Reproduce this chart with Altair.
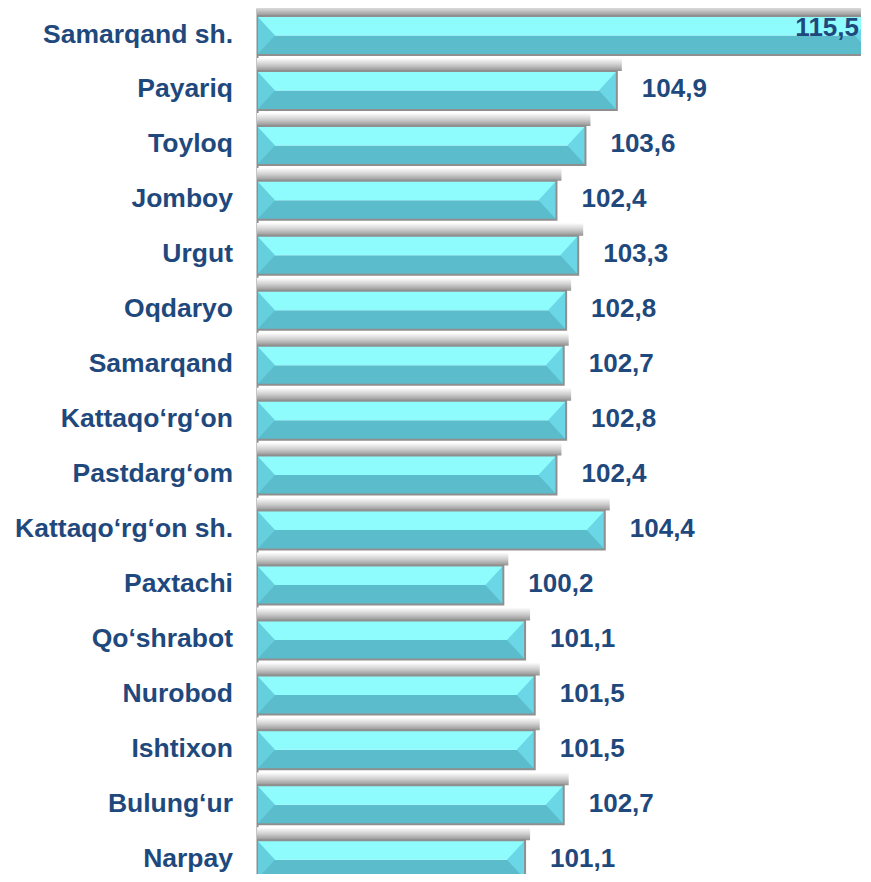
import altair as alt
import pandas as pd

districts = [
    "Samarqand sh.", "Payariq", "Toyloq", "Jomboy", "Urgut", "Oqdaryo",
    "Samarqand\u00a0", "Kattaqo‘rg‘on\u00a0", "Pastdarg‘om", "Kattaqo‘rg‘on sh.",
    "Paxtachi", "Qo‘shrabot", "Nurobod", "Ishtixon", "Bulung‘ur", "Narpay",
]
values = [115.5, 104.9, 103.6, 102.4, 103.3, 102.8, 102.7, 102.8, 102.4, 104.4,
          100.2, 101.1, 101.5, 101.5, 102.7, 101.1]
axis_min = 90
axis_max = 115.01

df = pd.DataFrame({"district": districts, "value": values, "idx": list(range(len(values)))})

W = 604
H = 866
STEP = 54.95
d0 = -27.5 / STEP
d1 = d0 + H / STEP

xscale = alt.Scale(domain=[axis_min, axis_max], nice=False, zero=False)
yscale = alt.Scale(domain=[d0, d1], nice=False, zero=False, reverse=True)
yaxis = alt.Axis(labels=False, ticks=False, grid=False, domain=True,
                 domainColor="#8c8c8c", domainWidth=2, title=None)

def X(f):
    return alt.X(f, type="quantitative", scale=xscale, axis=None)

def Y(f):
    return alt.Y(f, type="quantitative", scale=yscale, axis=yaxis)

base = alt.Chart(df).transform_calculate(
    base=str(axis_min),
    top="datum.idx - 0.355",
    bot="datum.idx + 0.355",
    stop="datum.idx - 0.59",
    mid="datum.idx",
    label="replace(format(datum.value, '.1f'), '.', ',')",
)

shadow_grad = alt.LinearGradient(
    gradient="linear",
    stops=[alt.GradientStop(color="#ffffff", offset=0),
           alt.GradientStop(color="#cfcfcf", offset=0.5),
           alt.GradientStop(color="#939393", offset=1)],
    x1=0, x2=0, y1=0, y2=1,
)

shadow = base.mark_rect(fill=shadow_grad, clip=True, x2Offset=5).encode(
    x=X("base"), x2="value:Q", y=Y("stop"), y2="top:Q")

dark = base.mark_rect(fill="#5bbccb", clip=True).encode(
    x=X("base"), x2="value:Q", y=Y("mid"), y2="bot:Q")

light = base.mark_rect(fill="#8efcfd", clip=True).encode(
    x=X("base"), x2="value:Q", y=Y("top"), y2="mid:Q")

left_tri = base.mark_point(shape="M0,-1L0.923,0L0,1Z", size=1521, filled=True,
                           fill="#66cfde", opacity=1, strokeWidth=0, clip=True).encode(
    x=X("base"), y=Y("idx"))

right_tri = base.mark_point(shape="M0,-1L-0.923,0L0,1Z", size=1521, filled=True,
                            fill="#6bd6e6", opacity=1, strokeWidth=0, clip=True).encode(
    x=X("value"), y=Y("idx"))

outline = base.mark_rect(filled=False, stroke="#8f8f8f", strokeWidth=2, clip=True).encode(
    x=X("base"), x2="value:Q", y=Y("top"), y2="bot:Q")

text_style = dict(font="Liberation Sans", fontWeight="bold", color="#1F497D")

cat_labels = base.mark_text(align="right", baseline="middle", dy=-1, fontSize=26.5,
                            **text_style).encode(
    x=alt.value(-24), y=Y("idx"), text="district:N")

val_out = base.transform_filter(f"datum.value <= {axis_max}").mark_text(
    align="left", baseline="middle", dx=25, dy=-1, fontSize=26, **text_style).encode(
    x=X("value"), y=Y("idx"), text="label:N")

val_in = base.transform_filter(f"datum.value > {axis_max}").mark_text(
    align="right", baseline="middle", dx=-2, dy=-8, fontSize=26, **text_style).encode(
    x=alt.value(W), y=Y("idx"), text="label:N")

chart = alt.layer(shadow, dark, light, left_tri, right_tri, outline,
                  cat_labels, val_out, val_in).properties(
    width=W, height=H,
    autosize=alt.AutoSizeParams(type="none"),
    padding={"left": 249, "top": 0, "right": 0, "bottom": 0},
).configure_view(stroke=None)

chart.save("out.html", embed_options={"renderer": "svg", "actions": False})
